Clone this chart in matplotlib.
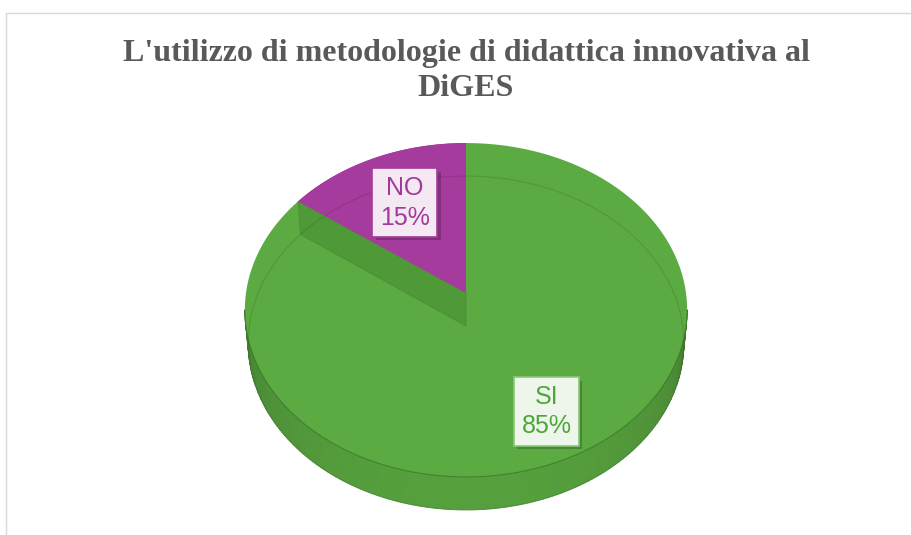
import numpy as np
import matplotlib
matplotlib.use("Agg")
import matplotlib.pyplot as plt
from matplotlib.patches import Polygon
import matplotlib.patheffects as pe
from matplotlib.colors import to_rgb

# ---- data ----
categories = ["SI", "NO"]
values = [85, 15]
title = "L'utilizzo di metodologie di didattica innovativa al\nDiGES"

# ---- style / layout ----
top_colors = ["#5bab42", "#a53b9c"]
wall_color = "#4f9939"
label_text_colors = ["#4ea63a", "#a3399a"]
label_fill = ["#eef5eb", "#f4e8f3"]
label_edge = ["#8cc77a", "#a53b9c"]
label_radius = [0.75, 0.65]

W, H = 911, 535
fig = plt.figure(figsize=(W / 100, H / 100), dpi=100)
ax = fig.add_axes([0, 0, 1, 1])
ax.set_xlim(0, W)
ax.set_ylim(H, 0)
ax.axis("off")

# perspective projection of a circle lying flat
cx, cy = 466.0, 293.0
A, B, R = 220.0, 165.2, 0.1018
DEPTH = 33.0
BOT_SCALE = 0.985


def proj(theta_deg, f=1.0, z=0.0):
    t = np.radians(theta_deg)
    u = f * np.cos(t)
    v = f * np.sin(t)
    w = 1 + R * v
    sx = 1 - (1 - BOT_SCALE) * z
    return cx + sx * A * u / w, cy - B * v / w + DEPTH * z


def arc(t0, t1, f=1.0, z=0.0, n=200):
    ts = np.linspace(t0, t1, n)
    xs, ys = proj(ts, f, z)
    return np.column_stack([xs, ys])


# slice angles (start at 12 o'clock, clockwise)
total = float(sum(values))
starts, ends = [], []
a = 90.0
for val in values:
    starts.append(a)
    a -= 360.0 * val / total
    ends.append(a)

# ---- side wall (front part of the big slice) ----
sil = np.degrees(np.arcsin(R))
t_left, t_right = 180 + sil, 360 - sil
base = np.array(to_rgb("#5aa840"))
ts = np.linspace(t_left, t_right, 140)
for i in range(len(ts) - 1):
    ta, tb = ts[i], ts[i + 1]
    top = arc(ta, tb, n=3)
    bot = arc(tb, ta, z=1.0, n=3)
    tm = 0.5 * (ta + tb)
    k = max(np.cos(np.radians(tm - 270)), 0.0)
    shade = 0.66 + 0.29 * k ** 0.6
    col = np.clip(base * shade, 0, 1)
    ax.add_patch(Polygon(np.vstack([top, bot]), closed=True, fc=col, ec=col, lw=0.6, zorder=1))

# ---- top faces ----
for i in range(len(values)):
    pts = np.vstack([[proj(0, 0)], arc(starts[i], ends[i], n=300), [proj(0, 0)]])
    ax.add_patch(Polygon(pts, closed=True, fc=top_colors[i], ec="none", zorder=2))

# cut wall at the boundary between the slices
edge_t = ends[0]
p_rim = proj(edge_t)
p_rim_b = proj(edge_t, z=1.0)
p_c = proj(0, 0)
p_c_b = proj(0, 0, z=1.0)
ax.add_patch(Polygon([p_rim, p_c, p_c_b, p_rim_b], closed=True, fc=wall_color, ec="#4a9036",
                     lw=0.6, zorder=3))
i = 1
pts = np.vstack([[proj(0, 0)], arc(starts[i], ends[i], n=300), [proj(0, 0)]])
ax.add_patch(Polygon(pts, closed=True, fc=top_colors[i], ec="none", zorder=4))

# faint hidden / rim edges
bot_ring = arc(0, 360, z=1.0, n=400)
ax.plot(bot_ring[:, 0], bot_ring[:, 1], color=(0, 0, 0, 0.10), lw=0.9, zorder=5)
front = arc(t_left, t_right, n=200)
ax.plot(front[:, 0], front[:, 1], color=(0.2, 0.45, 0.15, 0.7), lw=0.8, zorder=5)

# ---- labels ----
for i, (cat, val) in enumerate(zip(categories, values)):
    mid = 0.5 * (starts[i] + ends[i])
    lx, ly = proj(mid, label_radius[i])
    t = ax.text(lx, ly, f"{cat}\n{val}%", ha="center", va="center", fontsize=18,
                family="Liberation Sans", linespacing=1.3, color=label_text_colors[i],
                bbox=dict(boxstyle="square,pad=0.3", fc=label_fill[i], ec=label_edge[i], lw=1.2),
                zorder=7)
    t.get_bbox_patch().set_path_effects([
        pe.SimplePatchShadow(offset=(2.5, -2.5), shadow_rgbFace="black", alpha=0.2),
        pe.Normal()])

# ---- title ----
ax.text(466, 71, title, ha="center", va="center", fontsize=23, family="Liberation Serif",
        weight="bold", color="#595959", linespacing=1.28, zorder=8)

# ---- chart frame ----
ax.plot([5.5, 5.5, W + 5], [H + 5, 12.5, 12.5], color="#d9d9d9", lw=1.0, zorder=0)

fig.savefig("out.png", dpi=100)
